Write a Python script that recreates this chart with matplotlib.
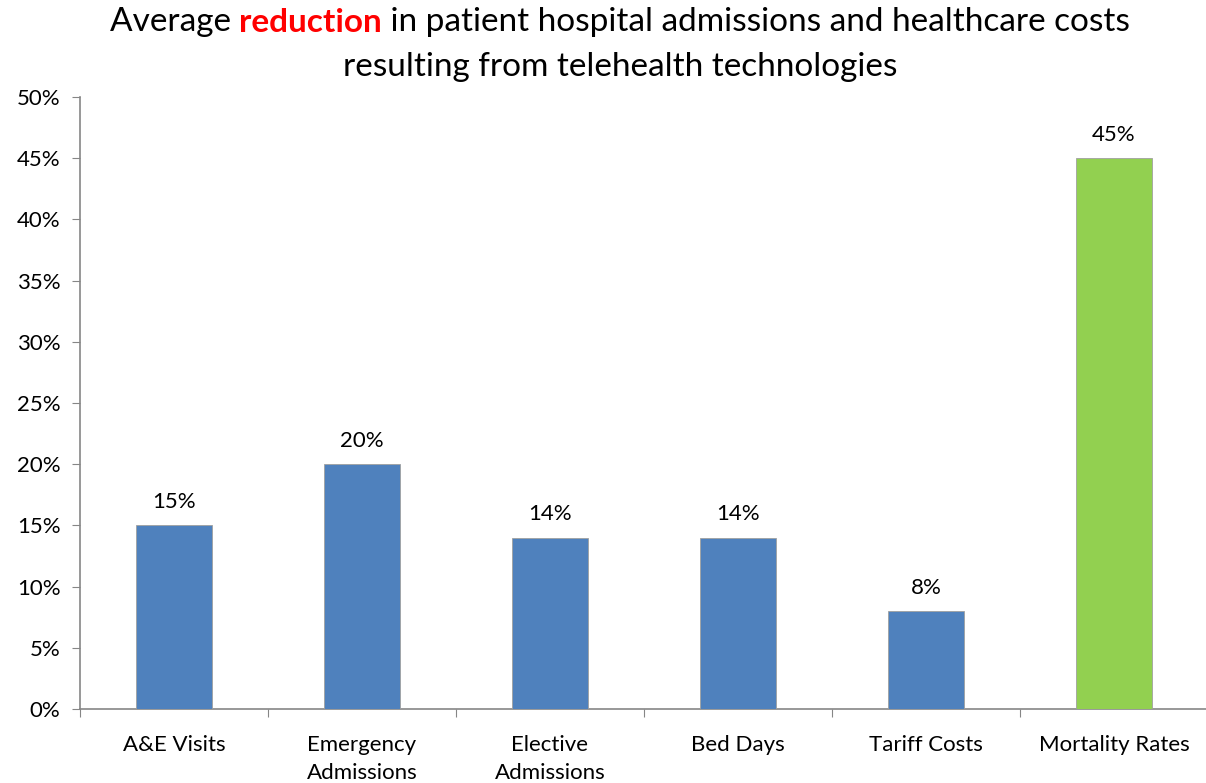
import matplotlib.pyplot as plt
import numpy as np
from matplotlib.ticker import FuncFormatter, FixedLocator

categories = ['A&E Visits', 'Emergency\nAdmissions', 'Elective\nAdmissions',
              'Bed Days', 'Tariff Costs', 'Mortality Rates']
values = [15, 20, 14, 14, 8, 45]
bar_colors = ['#4F81BD', '#4F81BD', '#4F81BD', '#4F81BD', '#4F81BD', '#92D050']
yticks = [0, 5, 10, 15, 20, 25, 30, 35, 40, 45, 50]

plt.rcParams['font.family'] = ['Lato', 'DejaVu Sans']

fig = plt.figure(figsize=(12.06, 7.83), dpi=100)
ax = fig.add_axes([80 / 1206, 1 - 709 / 783, 1128 / 1206, (709 - 97) / 783])

x = np.arange(len(categories))
ax.bar(x, values, width=0.4, color=bar_colors, edgecolor='#A0A0A0', linewidth=0.6, zorder=3)
for xi, v in zip(x, values):
    ax.text(xi, v + 1.1, '{}%'.format(v), ha='center', va='bottom', fontsize=16, color='black')

ax.set_xlim(-0.5, len(categories) - 0.5)
ax.set_ylim(0, 50)
ax.set_yticks(yticks)
ax.yaxis.set_major_formatter(FuncFormatter(lambda v, p: '{:d}%'.format(int(v))))
ax.tick_params(axis='y', labelsize=16, length=6, color='#868686', direction='out', pad=8)

ax.xaxis.set_major_locator(FixedLocator(np.arange(len(categories) + 1) - 0.5))
ax.set_xticklabels([''] * (len(categories) + 1))
ax.tick_params(axis='x', which='major', length=6, color='#868686', direction='out')
ax.set_xticks(x, minor=True)
ax.set_xticklabels(categories, minor=True, fontsize=16, linespacing=1.5)
ax.tick_params(axis='x', which='minor', length=0, pad=19)

for s in ['top', 'right']:
    ax.spines[s].set_visible(False)
for s in ['left', 'bottom']:
    ax.spines[s].set_color('#868686')
    ax.spines[s].set_linewidth(1.2)

# title with one highlighted word
parts = [('Average ', 'black', 'normal'), ('reduction', 'red', 'bold'),
         (' in patient hospital admissions and healthcare costs', 'black', 'normal')]
fig.canvas.draw()
r = fig.canvas.get_renderer()
texts = []
for s, c, w in parts:
    t = fig.text(0, 1 - 22 / 783, s, color=c, fontweight=w, fontsize=24, va='center', ha='left')
    texts.append(t)
widths = [t.get_window_extent(r).width for t in texts]
total = sum(widths)
start = 620 - total / 2
for t, w in zip(texts, widths):
    t.set_x(start / 1206)
    start += w
fig.text(620 / 1206, 1 - 67 / 783, 'resulting from telehealth technologies',
         fontsize=24, ha='center', va='center')

fig.savefig('out.png', dpi=100)
